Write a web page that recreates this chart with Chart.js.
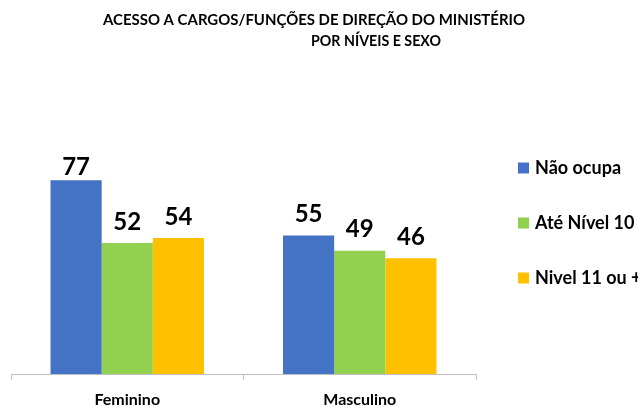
<!DOCTYPE html>
<html>
<head>
<meta charset="utf-8">
<script src="https://cdn.jsdelivr.net/npm/chart.js@4.4.1/dist/chart.umd.min.js"></script>
<style>
  html, body { margin: 0; padding: 0; background: #fff; }
  #wrap { width: 638px; height: 407px; }
</style>
</head>
<body>
<div id="wrap"><canvas id="chart"></canvas></div>
<script>
const categories = ['Feminino', 'Masculino'];
const seriesNames = ['Não ocupa', 'Até Nível 10', 'Nivel 11 ou +'];
const naoOcupa = [77, 55];
const ateNivel10 = [52, 49];
const nivel11 = [54, 46];
const titleLines = ['ACESSO A CARGOS/FUNÇÕES DE DIREÇÃO DO MINISTÉRIO', 'POR NÍVEIS E SEXO'];
const colors = ['#4472C4', '#92D050', '#FFC000'];

const FONT = 'Lato, "Open Sans", sans-serif';

// title drawn by hand: second line sits right of centre like the original
const titlePlugin = {
  id: 'titleLines',
  afterDraw(chart) {
    const ctx = chart.ctx;
    ctx.save();
    ctx.fillStyle = '#000';
    ctx.font = 'bold 15px ' + FONT;
    ctx.textAlign = 'center';
    ctx.textBaseline = 'middle';
    ctx.fillText(titleLines[0], 314, 20, 422);
    ctx.fillText(titleLines[1], 376, 41, 130);
    ctx.restore();
  }
};

// value above each bar, kept inside the plot area (like the 77)
const valueLabels = {
  id: 'valueLabels',
  afterDatasetsDraw(chart) {
    const ctx = chart.ctx;
    const top = chart.chartArea.top;
    ctx.save();
    ctx.fillStyle = '#000';
    ctx.font = 'bold 24px ' + FONT;
    ctx.textAlign = 'center';
    ctx.textBaseline = 'bottom';
    chart.data.datasets.forEach((ds, i) => {
      chart.getDatasetMeta(i).data.forEach((bar, j) => {
        const y = Math.max(bar.y - 9, top + 19);
        ctx.fillText(ds.data[j], bar.x, y);
      });
    });
    ctx.restore();
  }
};

const sideLegend = {
  id: 'sideLegend',
  afterDraw(chart) {
    const ctx = chart.ctx;
    ctx.save();
    ctx.font = 'bold 18px ' + FONT;
    ctx.textBaseline = 'middle';
    ctx.textAlign = 'left';
    chart.data.datasets.forEach((ds, i) => {
      const y = 168 + i * 55;
      ctx.fillStyle = ds.backgroundColor;
      ctx.fillRect(518, y - 5.5, 11, 11);
      ctx.fillStyle = '#000';
      ctx.fillText(ds.label, 535, y);
    });
    ctx.restore();
  }
};

new Chart(document.getElementById('chart'), {
  type: 'bar',
  data: {
    labels: categories,
    datasets: [
      { label: seriesNames[0], data: naoOcupa, backgroundColor: colors[0] },
      { label: seriesNames[1], data: ateNivel10, backgroundColor: colors[1] },
      { label: seriesNames[2], data: nivel11, backgroundColor: colors[2] },
    ],
  },
  options: {
    responsive: true,
    maintainAspectRatio: false,
    animation: false,
    layout: { padding: { top: 160, left: 11, right: 162, bottom: -13 } },
    datasets: { bar: { categoryPercentage: 0.66, barPercentage: 1.0 } },
    plugins: {
      legend: { display: false },
      title: { display: false },
      tooltip: { enabled: false },
    },
    scales: {
      y: { display: false, min: 0, max: 85 },
      x: {
        grid: { offset: true, drawOnChartArea: false, tickLength: 6, color: '#BFBFBF' },
        border: { color: '#BFBFBF' },
        ticks: { color: '#000', padding: 12, font: { family: FONT, size: 16, weight: 'bold', lineHeight: 1.0 } },
      },
    },
  },
  plugins: [titlePlugin, valueLabels, sideLegend],
});
</script>
</body>
</html>
